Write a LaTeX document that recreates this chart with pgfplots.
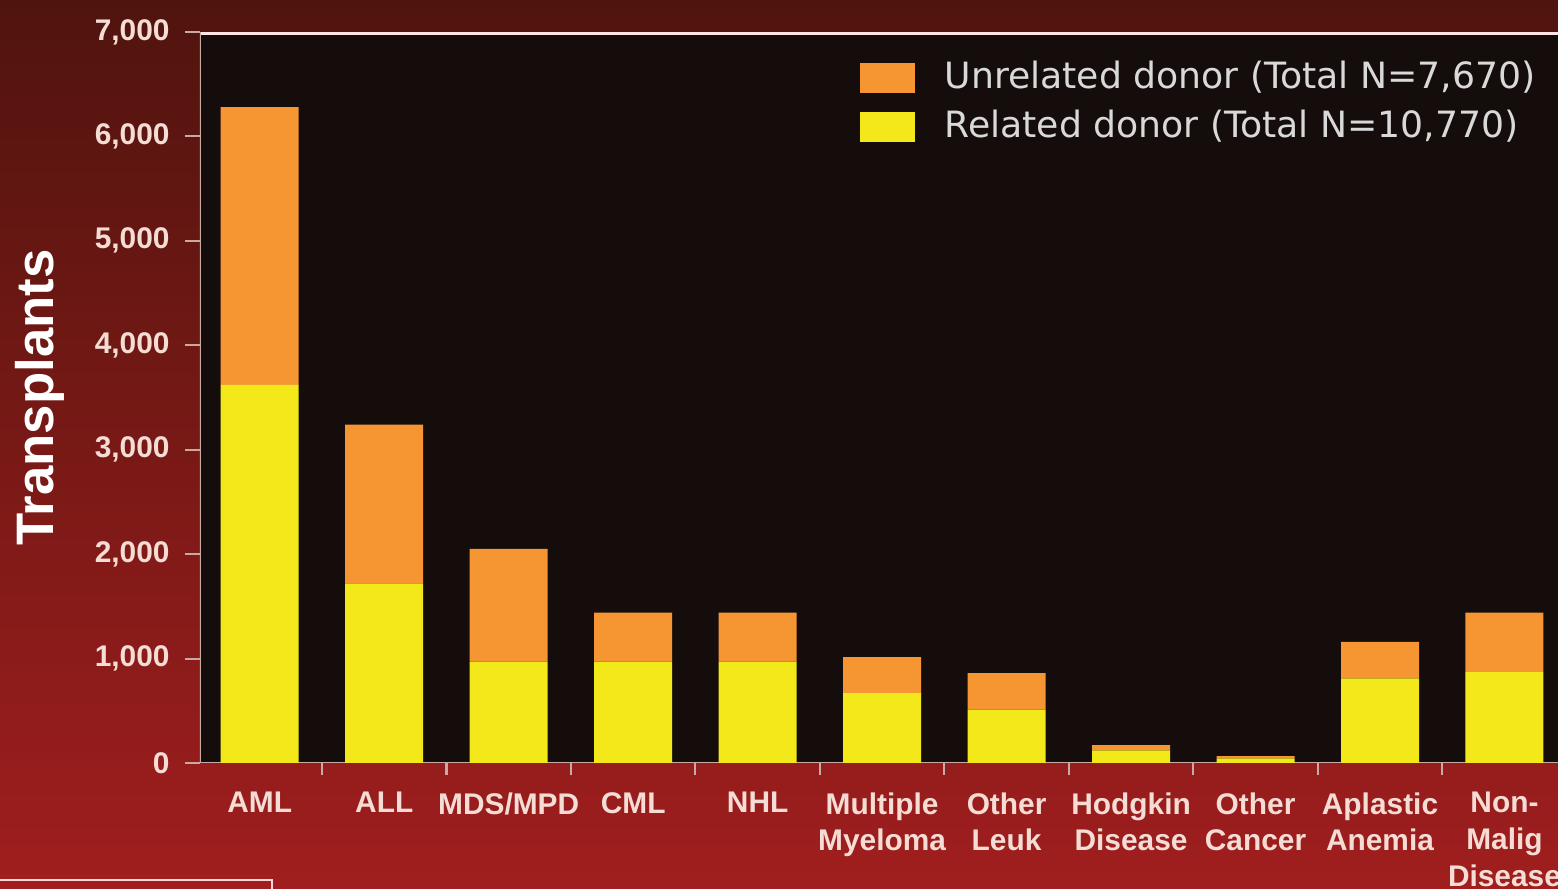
\documentclass[border=0pt]{standalone}
\usepackage{pgfplots}
\pgfplotsset{compat=1.18}
\usepackage{fontspec}
\setmainfont{Liberation Sans}
\newfontfamily\legfont{DejaVu Sans}

\definecolor{bgtop}{RGB}{80,20,14}
\definecolor{bgbot}{RGB}{160,30,30}
\definecolor{plotbg}{RGB}{21,12,12}
\definecolor{unrel}{RGB}{245,150,50}
\definecolor{rel}{RGB}{242,232,26}
\definecolor{txt}{RGB}{245,220,212}
\definecolor{spine}{RGB}{200,170,165}

\begin{document}
\begin{tikzpicture}
\useasboundingbox (0,0) rectangle (15.58cm,8.89cm);
\clip (0,0) rectangle (15.58cm,8.89cm);
\shade[top color=bgtop, bottom color=bgbot] (0,0) rectangle (15.58cm,8.89cm);
\draw[white!85!red, line width=0.6pt] (-1mm,0.9mm) -- (27.2mm,0.9mm) -- (27.2mm,-1mm);

\begin{axis}[
    at={(20mm,12.6mm)}, anchor=south west,
    scale only axis, width=135.8mm, height=73.1mm,
    ybar stacked, bar width=7.8mm,
    xmin=-0.48, xmax=10.43,
    ymin=0, ymax=7000,
    ytick={0,1000,...,7000},
    scaled y ticks=false,
    /pgf/number format/1000 sep={,},
    /pgf/number format/assume math mode=true,
    xtick={0,...,10},
    xticklabels={AML, ALL, MDS/MPD, CML, NHL, Multiple\\Myeloma, Other\\Leuk, Hodgkin\\Disease, Other\\Cancer, Aplastic\\Anemia, Non-\\Malig\\Disease},
    minor xtick={0.5,1.5,...,9.5},
    xtick pos=bottom, ytick pos=left,
    tick align=outside,
    major tick length=1.5mm, minor tick length=1.2mm,
    major x tick style={draw=none},
    minor x tick style={spine, line width=0.6pt},
    major y tick style={spine, line width=0.6pt},
    xticklabel style={align=center, text=txt, font=\bfseries\fontsize{8.5}{10.4}\selectfont, yshift=-0.2mm},
    yticklabel style={text=txt, font=\bfseries\fontsize{8.5}{10}\selectfont, xshift=-0.3mm},
    axis background/.style={fill=plotbg},
    axis line style={draw=none},
    ylabel={\bfseries Transplants},
    ylabel style={at={(axis description cs:-0.118,0.5)}, anchor=center, text=white, font=\fontsize{15}{17}\selectfont},
    legend style={at={(0.997,0.98)}, anchor=north east, draw=none, fill=none,
      text=white!85!black, font=\legfont\fontsize{10.3}{11}\selectfont, row sep=0.2mm},
    legend cell align=left,
    legend image code/.code={\path[#1, draw=none] (0mm,-1.5mm) rectangle (5.5mm,1.5mm);
      \path[draw=none, fill=none] (0mm,0mm) rectangle (7.8mm,0.1mm);},
    reverse legend,
  ]
  \addplot[fill=rel, draw=none] coordinates {
    (0,3620) (1,1720) (2,970) (3,970) (4,970) (5,670)
    (6,510) (7,120) (8,45) (9,810) (10,870)
  };
  \addlegendentry{Related donor (Total N=10,770)}
  \addplot[fill=unrel, draw=none] coordinates {
    (0,2660) (1,1520) (2,1080) (3,470) (4,470) (5,345)
    (6,350) (7,50) (8,20) (9,350) (10,570)
  };
  \addlegendentry{Unrelated donor (Total N=7,670)}

  \draw[spine, line width=0.8pt] (rel axis cs:0,0) -- (rel axis cs:1,0);
  \draw[spine, line width=0.8pt] (rel axis cs:0,0) -- (rel axis cs:0,1);
  \draw[white!90!red, line width=1.6pt] (rel axis cs:0,1) -- (rel axis cs:1,1);
\end{axis}
\end{tikzpicture}
\end{document}
